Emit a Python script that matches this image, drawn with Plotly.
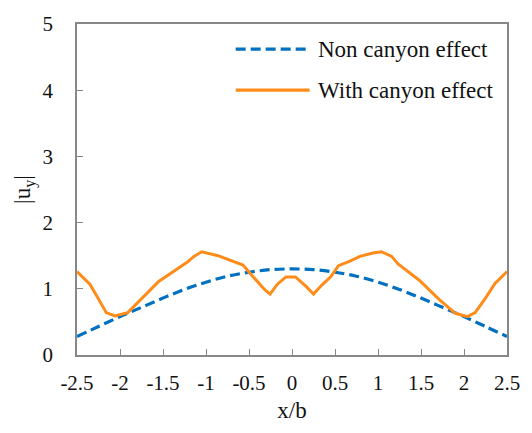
import plotly.graph_objects as go

# Displacement amplitude without the canyon (smooth profile)
x_non = [-2.5, -2.25, -2.0, -1.75, -1.5, -1.25, -1.0, -0.75, -0.5, -0.25, 0.0,
         0.25, 0.5, 0.75, 1.0, 1.25, 1.5, 1.75, 2.0, 2.25, 2.5]
u_non = [0.28, 0.43, 0.58, 0.72, 0.86, 0.99, 1.10, 1.19, 1.25, 1.29, 1.30,
         1.29, 1.25, 1.19, 1.10, 0.99, 0.86, 0.72, 0.58, 0.43, 0.28]

# Displacement amplitude with the canyon
x_can = [-2.5, -2.35, -2.27, -2.16, -2.06, -1.91, -1.55, -1.22, -1.14, -1.05,
         -0.86, -0.70, -0.57, -0.47, -0.40, -0.32, -0.255, -0.17, -0.07, 0.04,
         0.16, 0.25, 0.35, 0.45, 0.54, 0.66, 0.79, 0.94, 1.04, 1.16, 1.23,
         1.48, 1.71, 1.90, 2.04, 2.13, 2.25, 2.36, 2.5]
u_can = [1.26, 1.07, 0.89, 0.64, 0.59, 0.64, 1.11, 1.40, 1.49, 1.56,
         1.50, 1.42, 1.36, 1.21, 1.10, 0.99, 0.92, 1.07, 1.18, 1.18,
         1.04, 0.92, 1.06, 1.18, 1.35, 1.41, 1.49, 1.54, 1.56, 1.49, 1.38,
         1.13, 0.84, 0.63, 0.58, 0.64, 0.86, 1.08, 1.26]

x_ticks = [-2.5, -2, -1.5, -1, -0.5, 0, 0.5, 1, 1.5, 2, 2.5]
y_ticks = [0, 1, 2, 3, 4, 5]

BLUE = "#0070C0"
ORANGE = "#FF8C1A"
FONT = "Liberation Serif, Times New Roman, DejaVu Serif, serif"

fig = go.Figure()
fig.add_trace(go.Scatter(x=x_non, y=u_non, mode="lines", name="Non canyon effect",
                         line=dict(color=BLUE, width=3.2, dash="10px,5px", shape="spline"),
                         showlegend=False))
fig.add_trace(go.Scatter(x=x_can, y=u_can, mode="lines", name="With canyon effect",
                         line=dict(color=ORANGE, width=3), showlegend=False))

# Legend drawn in paper coordinates
legend_items = [("Non canyon effect", BLUE, "10px,5px", 0.924),
                ("With canyon effect", ORANGE, "solid", 0.800)]
for label, color, dash, yp in legend_items:
    fig.add_shape(type="line", xref="paper", yref="paper",
                  x0=0.369, x1=0.541, y0=yp, y1=yp,
                  line=dict(color=color, width=3.2, dash=dash))
    fig.add_annotation(xref="paper", yref="paper", x=0.555, y=yp, text=label,
                       showarrow=False, xanchor="left", yanchor="middle",
                       font=dict(family=FONT, size=23, color="#111"))

axis_common = dict(showline=True, linecolor="#888", linewidth=1.5, mirror=True,
                   ticks="inside", ticklen=6, tickcolor="#888", showgrid=False,
                   zeroline=False, tickfont=dict(family=FONT, size=21, color="#111"))

fig.update_xaxes(range=[-2.5, 2.5], tickvals=x_ticks,
                 ticktext=[f"{v:g}" for v in x_ticks], ticklabelstandoff=8,
                 title=dict(text="x/b", font=dict(family=FONT, size=23, color="#111"),
                            standoff=8),
                 **axis_common)
fig.update_yaxes(range=[0, 5], tickvals=y_ticks, ticklabelstandoff=18,
                 title=dict(text="|u<sub>y</sub>|", font=dict(family=FONT, size=23, color="#111"),
                            standoff=5),
                 **axis_common)

fig.update_layout(width=532, height=433, margin=dict(l=77, r=20, t=17, b=78),
                  paper_bgcolor="white", plot_bgcolor="white")

fig.write_html("out.html")
